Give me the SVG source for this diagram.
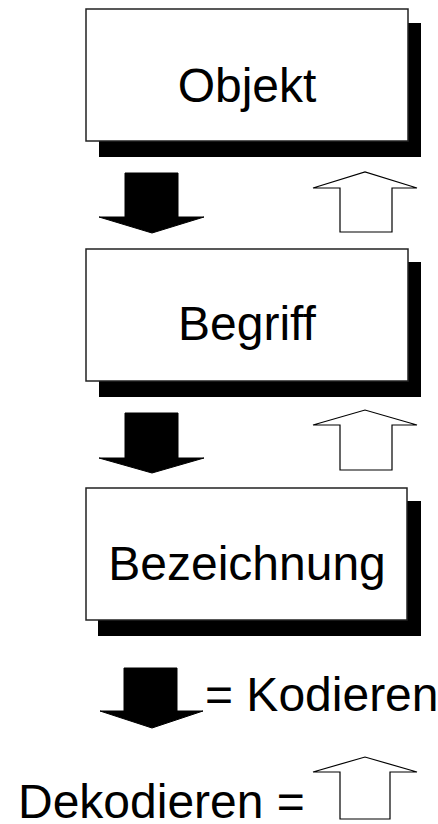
<svg xmlns="http://www.w3.org/2000/svg" width="438" height="824" viewBox="0 0 438 824">
<style>
.box{fill:#fff;stroke:#222;stroke-width:1.5}
.shadow{fill:#000}
.lbl{font-family:"Liberation Sans",Arial,sans-serif;font-size:48px;fill:#000}
.down{fill:#000;stroke:#000;stroke-width:1}
.up{fill:#fff;stroke:#000;stroke-width:1.2;stroke-linejoin:miter}
</style>
<rect width="438" height="824" fill="#fff"/>
<g id="objekt">
<rect class="shadow" x="99" y="23" width="322" height="134"/>
<rect class="box" x="86" y="9" width="322" height="132"/>
<text class="lbl" x="247" y="102" text-anchor="middle">Objekt</text>
</g>
<g id="begriff">
<rect class="shadow" x="99" y="262" width="322" height="135"/>
<rect class="box" x="86" y="249" width="322" height="132"/>
<text class="lbl" x="247" y="340" text-anchor="middle">Begriff</text>
</g>
<g id="bezeichnung">
<rect class="shadow" x="98" y="501" width="323" height="135"/>
<rect class="box" x="86" y="488" width="321" height="132"/>
<text class="lbl" x="247" y="580" text-anchor="middle">Bezeichnung</text>
</g>
<g id="connectors">
<polygon class="down" points="125,173 178,173 178,217 204,217 152,233 99,217 125,217"/>
<polygon class="up" points="340,232 392,232 392,188 417,188 365,172 313,188 340,188"/>
<polygon class="down" points="125,413 178,413 178,458 204,458 152,473 99,458 125,458"/>
<polygon class="up" points="340,470 392,470 392,425 417,425 365,410 313,425 340,425"/>
</g>
<g id="legend">
<polygon class="down" points="124,668 177,668 177,711 203,711 152,728 100,711 124,711"/>
<text class="lbl" x="205" y="711">= Kodieren</text>
<polygon class="up" points="340,819 390,819 390,772 417,772 365,757 313,772 340,772"/>
<text class="lbl" x="18" y="818">Dekodieren =</text>
</g>
</svg>
